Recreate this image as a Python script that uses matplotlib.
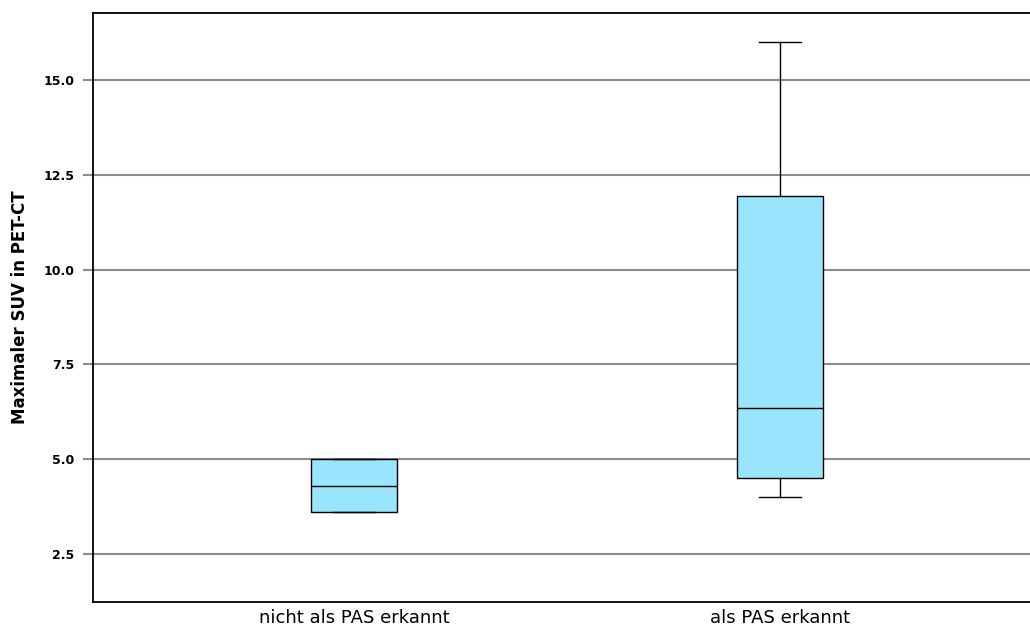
import matplotlib
matplotlib.use("Agg")
import matplotlib.pyplot as plt

# Group labels and box statistics
groups = ["nicht als PAS erkannt", "als PAS erkannt"]
whislo = [3.6, 4.0]
q1 = [3.6, 4.5]
med = [4.3, 6.35]
q3 = [5.0, 11.95]
whishi = [5.0, 16.0]

yticks = [2.5, 5.0, 7.5, 10.0, 12.5, 15.0]

stats = []
for i in range(len(groups)):
    stats.append({"label": groups[i], "whislo": whislo[i], "q1": q1[i],
                  "med": med[i], "q3": q3[i], "whishi": whishi[i], "fliers": []})

fig = plt.figure(figsize=(10.3, 6.3), dpi=100)
ax = fig.add_axes([93 / 1030, 28 / 630, (1041 - 93) / 1030, 589 / 630])

ax.bxp(stats, positions=[1, 2], widths=0.2, capwidths=0.1, patch_artist=True,
       showfliers=False,
       boxprops=dict(facecolor="#99e5fd", edgecolor="black", linewidth=1.0),
       medianprops=dict(color="black", linewidth=1.0),
       whiskerprops=dict(color="black", linewidth=1.0),
       capprops=dict(color="black", linewidth=1.0), zorder=3)

ax.set_xlim(0.387, 2.613)
ax.set_ylim(1.234, 16.77)
ax.set_yticks(yticks)
ax.set_yticklabels(["%.1f" % v for v in yticks], fontsize=9, fontweight="bold")
ax.yaxis.grid(True, color="#8c8c8c", linewidth=1.5, zorder=0)
ax.set_axisbelow(True)
ax.tick_params(axis="y", length=7.5, color="#8c8c8c", width=1.5, pad=6)
ax.tick_params(axis="x", length=0, pad=5, labelsize=13)
ax.set_xticklabels(groups, fontsize=13)
ax.set_ylabel("Maximaler SUV in PET-CT", fontsize=12, fontweight="bold", labelpad=10)

for s in ["left", "bottom", "top"]:
    ax.spines[s].set_linewidth(1.3)
ax.spines["right"].set_visible(False)

fig.savefig("out.png", dpi=100)
